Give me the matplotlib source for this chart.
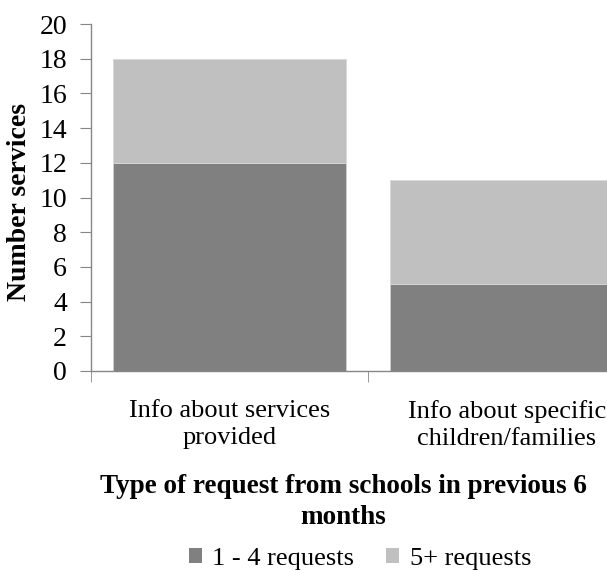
import numpy as np
import matplotlib
matplotlib.use("Agg")
import matplotlib.pyplot as plt
from matplotlib.patches import Patch

categories = ["Info about services\nprovided", "Info about specific\nchildren/families"]
requests_1_4 = [12, 5]
requests_5_plus = [6, 6]
series_names = ["1 - 4 requests", "5+ requests"]
yticks = [0, 2, 4, 6, 8, 10, 12, 14, 16, 18, 20]

plt.rcParams["font.family"] = ["Liberation Serif", "DejaVu Serif"]

dark = "#808080"
light = "#c0c0c0"
axis_grey = "#868686"

fig = plt.figure(figsize=(6.07, 5.70), dpi=100)
# axes runs past the right edge of the figure, like the cropped original
ax = fig.add_axes([90.7 / 607, 1 - 371 / 570, 554.6 / 607, 347 / 570])

x = np.arange(len(categories))
ax.bar(x, requests_1_4, width=0.838, color=dark, edgecolor="#d0d0d0", linewidth=0.6)
ax.bar(x, requests_5_plus, width=0.838, bottom=requests_1_4, color=light,
       edgecolor="#d9d9d9", linewidth=0.6)

ax.set_xlim(-0.5, 1.5)
ax.set_ylim(0, 20)
ax.set_yticks(yticks)
ax.tick_params(axis="y", labelsize=20, length=8, color=axis_grey, pad=9)

ax.set_xticks(x)
ax.set_xticklabels(categories, fontsize=19, linespacing=1.28)
ax.tick_params(axis="x", which="major", length=0, pad=21)
ax.set_xticks([-0.5, 0.5, 1.5], minor=True)
ax.tick_params(axis="x", which="minor", length=8, color=axis_grey)

for side in ["top", "right"]:
    ax.spines[side].set_visible(False)
for side in ["left", "bottom"]:
    ax.spines[side].set_color(axis_grey)
    ax.spines[side].set_linewidth(1.0)

fig.text(20 / 607, 1 - 202 / 570, "Number services", rotation=90, ha="center",
         va="center", fontsize=20, fontweight="bold")
fig.text(343 / 607, 1 - 474 / 570, "Type of request from schools in previous 6\nmonths",
         ha="center", va="top", fontsize=19.5, fontweight="bold", linespacing=1.32)

handles = [Patch(facecolor=dark), Patch(facecolor=light)]
fig.legend(handles, series_names, loc="center", bbox_to_anchor=(360 / 607, 1 - 559 / 570),
           ncol=2, frameon=False, fontsize=19, handlelength=0.5, handleheight=0.5,
           handletextpad=0.4, columnspacing=1.2, borderpad=0, borderaxespad=0)

fig.savefig("out.png", dpi=100)
